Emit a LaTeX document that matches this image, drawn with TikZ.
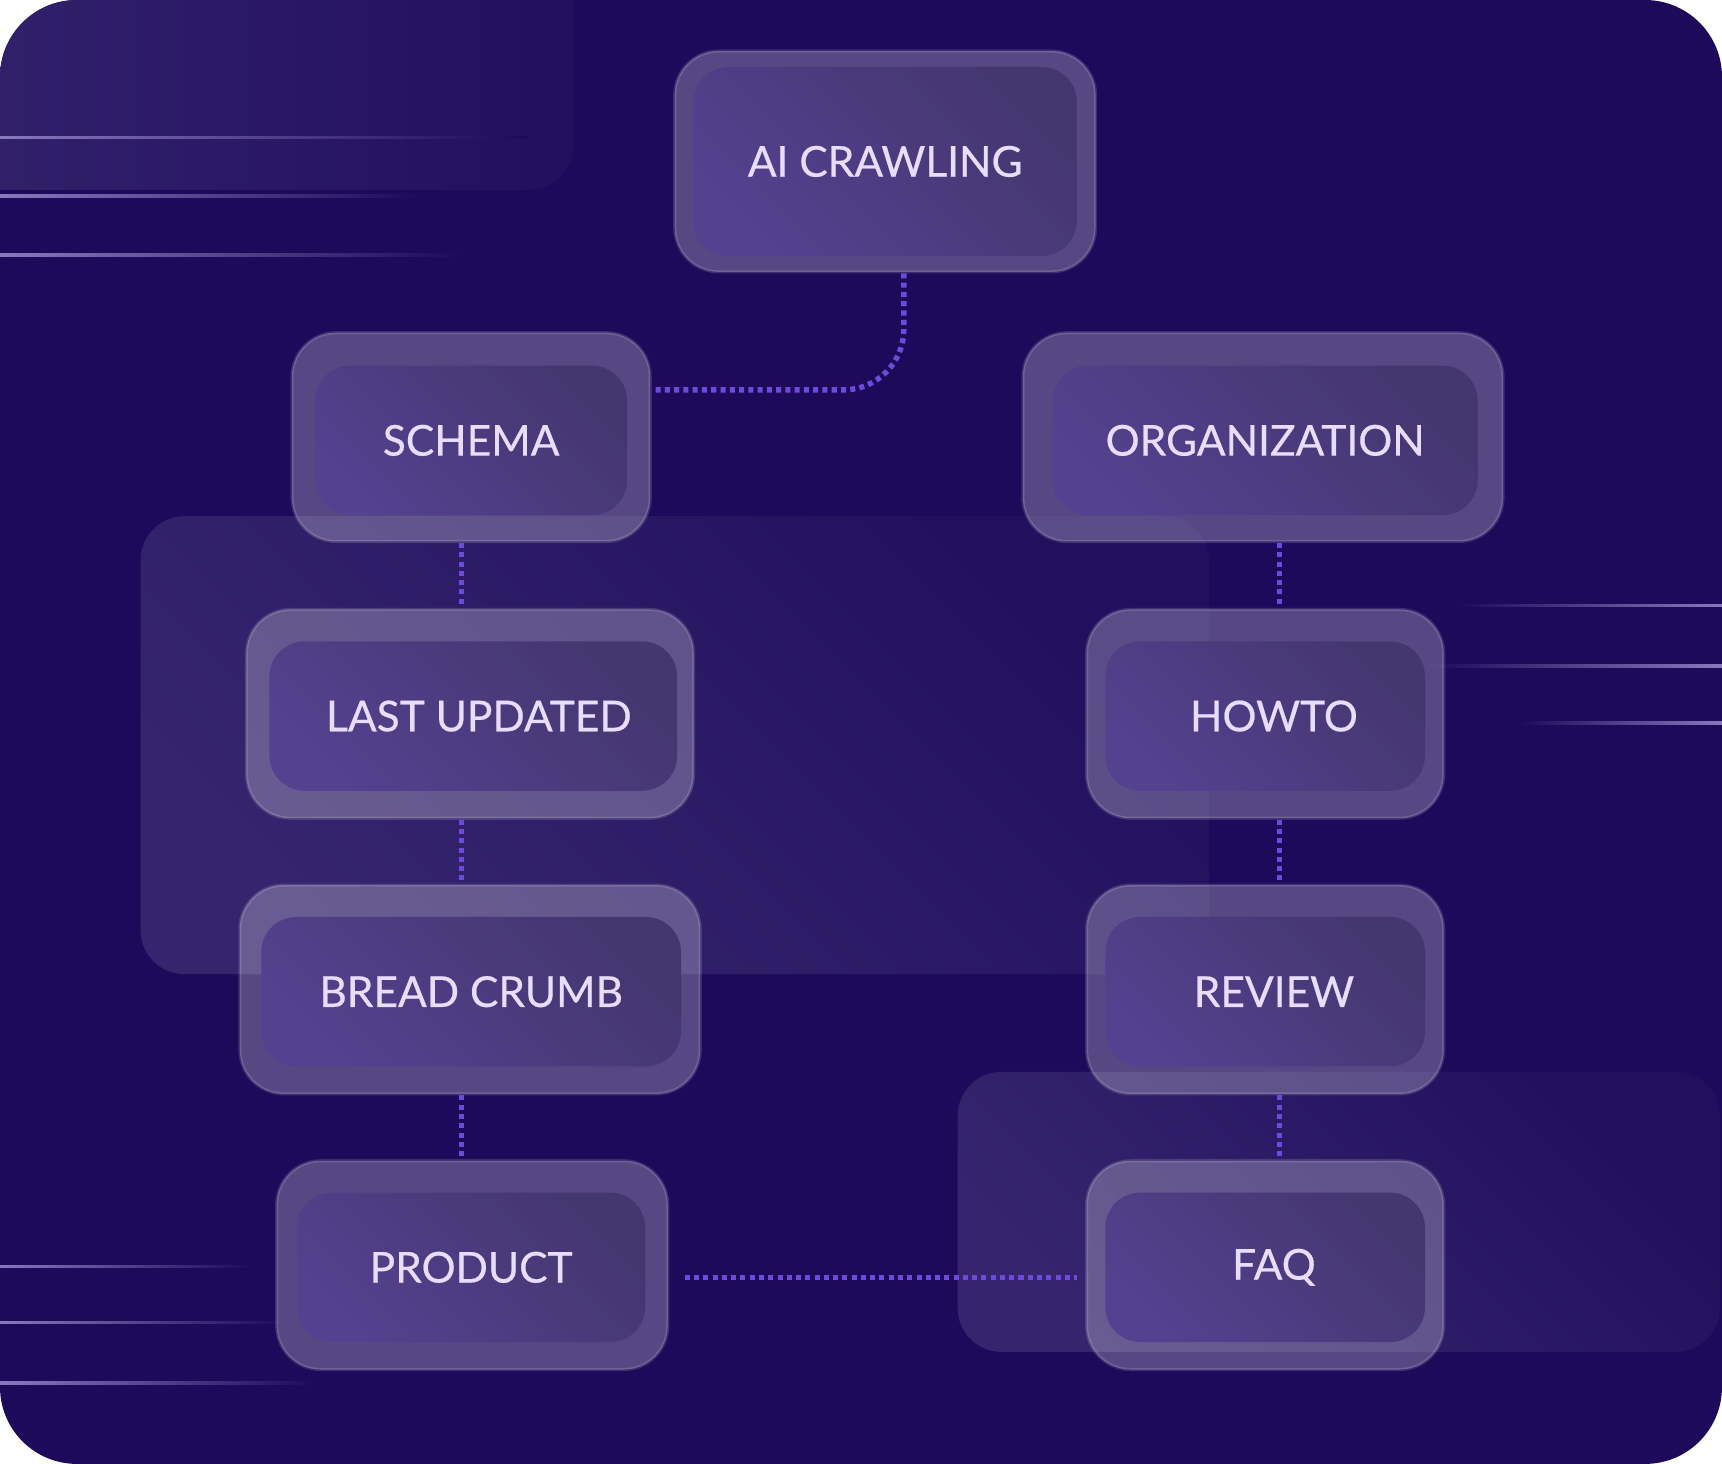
\documentclass[tikz,border=0pt]{standalone}
\usepackage{fontspec}
\setmainfont{Lato}
\newfontfamily\cardfont{Lato}[FakeBold=0.5]

\definecolor{bgc}{HTML}{1E0A5B}
\definecolor{panlo}{HTML}{36256E}
\definecolor{panhi}{HTML}{22105E}
\definecolor{inlo}{HTML}{54418F}
\definecolor{inhi}{HTML}{44366F}
\definecolor{txt}{HTML}{E6DDFF}
\definecolor{linkc}{HTML}{6E4ADC}
\definecolor{glint}{HTML}{8878BE}

\tikzset{
  panel/.style={rounded corners=0.4cm, left color=panlo, right color=panhi, shading angle=135},
  glow/.style={left color=glint, right color=bgc},
  card/.style={rounded corners=0.4cm, fill=white, fill opacity=0.255,
    draw=white, draw opacity=0.14, line width=0.8pt, minimum height=1.9cm},
  cardin/.style={rounded corners=0.32cm, left color=inlo, right color=inhi,
    shading angle=135, minimum height=1.36cm, text=txt,
    font=\cardfont\fontsize{11}{13}\selectfont},
  link/.style={draw=linkc, line width=1.4pt, dash pattern=on 1.3pt off 1.1pt},
}

\begin{document}
\begin{tikzpicture}[x=0.01cm, y=-0.01cm]

  % Page and backdrop
  \useasboundingbox (0,0) rectangle (1568,1333);
  \fill[white] (0,0) rectangle (1568,1333);
  \fill[bgc, rounded corners=0.7cm] (0,0) rectangle (1568,1333);

  \begin{scope}
    \clip[rounded corners=0.7cm] (0,0) rectangle (1568,1333);
    % Soft panels behind the cards
    \shade[panel, left color=panlo!85!bgc] (-60,-60) rectangle (522,173);
    \shade[panel] (128,470) rectangle (1101,887);
    \shade[panel] (872,976) rectangle (1566,1231);

    % Thin fading lines
    \shade[glow] (0,124) rectangle (480,126.5);
    \shade[glow] (0,177) rectangle (380,179.5);
    \shade[glow] (0,231) rectangle (420,233.5);
    \shade[glow] (0,1152) rectangle (228,1154.5);
    \shade[glow] (0,1203) rectangle (260,1205.5);
    \shade[glow] (0,1258) rectangle (288,1260.5);
    \shade[left color=bgc, right color=glint] (1327,550) rectangle (1568,552.5);
    \shade[left color=bgc, right color=glint] (1300,605) rectangle (1568,607.5);
    \shade[left color=bgc, right color=glint] (1384,657) rectangle (1568,659.5);
  \end{scope}

  % Cards: outer frame, then inner face with the text
  \node[card, minimum width=3.83cm, minimum height=2.01cm] (ai) at (806,147) {};
  \node[cardin, minimum width=3.49cm, minimum height=1.72cm] (ai-in) at (806,147) {AI CRAWLING};

  \node[card, minimum width=3.26cm] (schema) at (429,398) {};
  \node[cardin, minimum width=2.84cm] (schema-in) at (429,401) {SCHEMA};

  \node[card, minimum width=4.37cm] (org) at (1150,398) {};
  \node[cardin, minimum width=3.87cm] (org-in) at (1152,401) {ORGANIZATION};

  \node[card, minimum width=4.07cm] (lastup) at (428,650) {};
  \node[cardin, minimum width=3.71cm] (lastup-in) at (431,652) {\kern0.1cm LAST UPDATED};

  \node[card, minimum width=3.25cm] (howto) at (1152,650) {};
  \node[cardin, minimum width=2.91cm] (howto-in) at (1152,652) {\kern0.16cm HOWTO};

  \node[card, minimum width=4.19cm] (crumb) at (428,901) {};
  \node[cardin, minimum width=3.82cm] (crumb-in) at (429,903) {BREAD CRUMB};

  \node[card, minimum width=3.25cm] (review) at (1152,901) {};
  \node[cardin, minimum width=2.91cm] (review-in) at (1152,903) {\kern0.16cm REVIEW};

  \node[card, minimum width=3.56cm] (product) at (430,1152) {};
  \node[cardin, minimum width=3.17cm] (product-in) at (429,1154) {PRODUCT};

  \node[card, minimum width=3.25cm] (faq) at (1152,1152) {};
  \node[cardin, minimum width=2.91cm] (faq-in) at (1152,1154) {\kern0.16cm FAQ};

  % Dotted links
  \draw[link, rounded corners=0.55cm] (ai.south -| 823,0) |- (schema.east |- 0,355);
  \draw[link] (schema.south -| 420,0) -- (lastup.north -| 420,0);
  \draw[link] (lastup.south -| 420,0) -- (crumb.north -| 420,0);
  \draw[link] (crumb.south -| 420,0) -- (product.north -| 420,0);
  \draw[link] (org.south -| 1165,0) -- (howto.north -| 1165,0);
  \draw[link] (howto.south -| 1165,0) -- (review.north -| 1165,0);
  \draw[link] (review.south -| 1165,0) -- (faq.north -| 1165,0);
  \draw[link, shorten <=4pt, shorten >=2pt] (product.east |- 0,1163) -- (faq.west |- 0,1163);
\end{tikzpicture}
\end{document}
